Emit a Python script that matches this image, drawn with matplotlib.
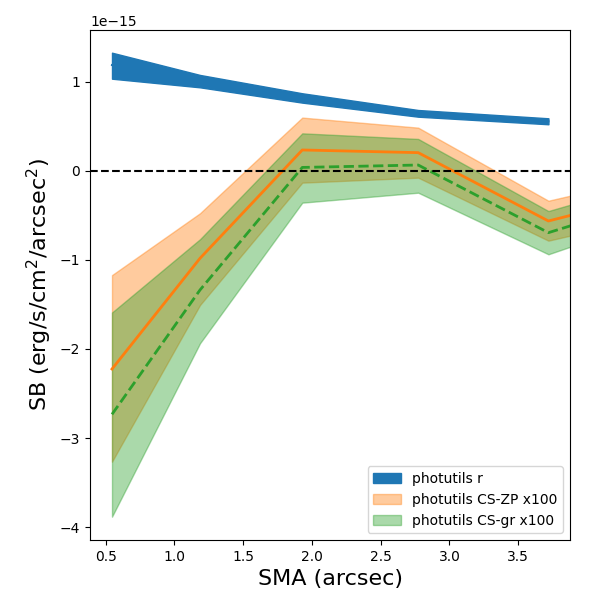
import numpy as np
import matplotlib
matplotlib.use("Agg")
import matplotlib.pyplot as plt

# semi-major axis (arcsec)
sma = np.array([0.546, 1.186, 1.93, 2.773, 3.72])
sma_cs = np.array([0.546, 1.186, 1.93, 2.773, 3.72, 4.77])

# photutils r band (erg/s/cm2/arcsec2)
r_mid = np.array([1.19, 1.01, 0.82, 0.645, 0.558]) * 1e-15
r_low = np.array([1.037, 0.94, 0.768, 0.61, 0.525]) * 1e-15
r_high = np.array([1.329, 1.079, 0.873, 0.685, 0.592]) * 1e-15

# colour-corrected, x100
zp_mid = np.array([-2.225, -0.981, 0.236, 0.206, -0.562, -0.15]) * 1e-15
zp_low = np.array([-3.266, -1.506, -0.131, -0.075, -0.783, -0.41]) * 1e-15
zp_high = np.array([-1.17, -0.475, 0.60, 0.487, -0.334, 0.04]) * 1e-15

gr_mid = np.array([-2.734, -1.337, 0.04, 0.067, -0.693, -0.19]) * 1e-15
gr_low = np.array([-3.884, -1.936, -0.356, -0.244, -0.936, -0.38]) * 1e-15
gr_high = np.array([-1.59, -0.767, 0.423, 0.36, -0.45, 0.02]) * 1e-15

fig, ax = plt.subplots(figsize=(6, 6), dpi=100)

ax.plot(sma, r_mid, color="C0")
ax.fill_between(sma, r_low, r_high, color="C0", label="photutils r")

ax.plot(sma_cs, zp_mid, color="C1", lw=2)
ax.fill_between(sma_cs, zp_low, zp_high, color="C1", alpha=0.4,
                label="photutils CS-ZP x100")

ax.plot(sma_cs, gr_mid, color="C2", lw=2, ls="--")
ax.fill_between(sma_cs, gr_low, gr_high, color="C2", alpha=0.4,
                label="photutils CS-gr x100")

ax.axhline(0, color="k", ls="--")

ax.set_xlim(0.386, 3.877)
ax.set_ylim(-4.146e-15, 1.584e-15)
ax.set_xlabel("SMA (arcsec)", fontsize=16)
ax.set_ylabel("SB (erg/s/cm$^2$/arcsec$^2$)", fontsize=16)
ax.legend(loc="lower right")

plt.subplots_adjust(left=0.15, right=0.95, top=0.95, bottom=0.1)
plt.savefig("out.png")
